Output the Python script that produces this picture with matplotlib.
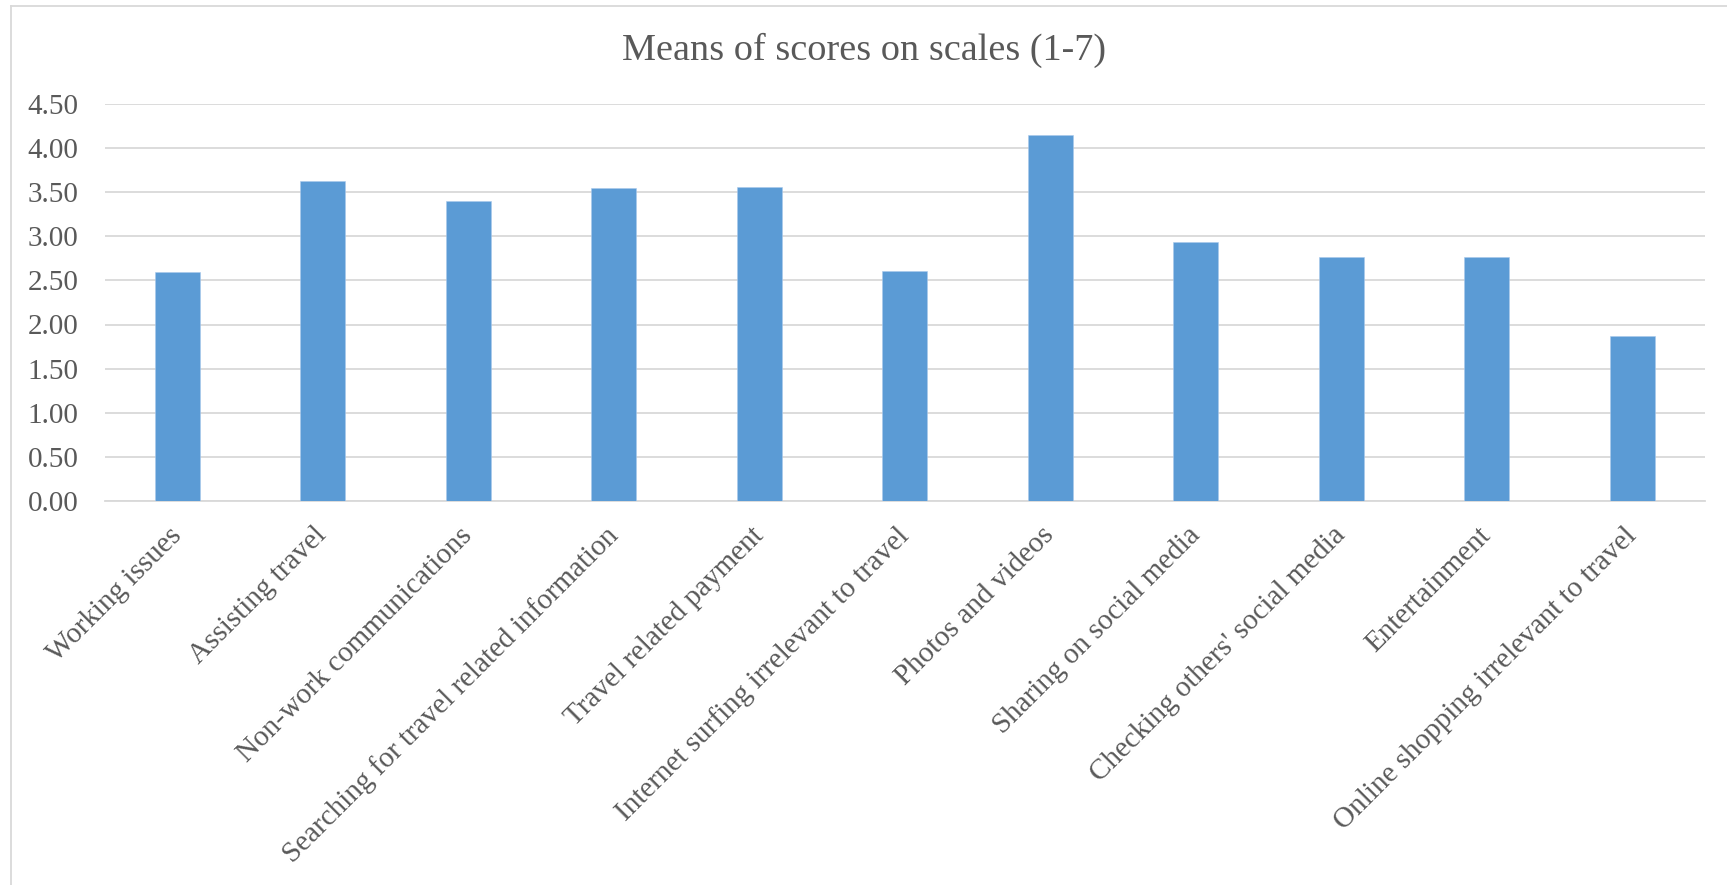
import numpy as np
import matplotlib
matplotlib.use('Agg')
import matplotlib.pyplot as plt
from matplotlib.lines import Line2D

# mean score per activity (scale 1-7)
activities = ['Working issues', 'Assisting travel', 'Non-work communications',
              'Searching for travel related information', 'Travel related payment',
              'Internet surfing irrelevant to travel', 'Photos and videos',
              'Sharing on social media', "Checking others' social media",
              'Entertainment', 'Online shopping irrelevant to travel']
means = [2.60, 3.63, 3.40, 3.55, 3.56, 2.61, 4.15, 2.93, 2.76, 2.77, 1.87]
yticks = [0.0, 0.5, 1.0, 1.5, 2.0, 2.5, 3.0, 3.5, 4.0, 4.5]

text_col = '#595959'
grid_col = '#d9d9d9'
plt.rcParams['font.family'] = ['Liberation Serif', 'DejaVu Serif']

fig = plt.figure(figsize = (17.27, 8.85), dpi = 100)
ax = fig.add_axes([0.0606, 0.434, 0.9267, 0.4485])

x = np.arange(len(activities))
ax.bar(x, means, width = 0.31, color = '#5b9bd5', edgecolor = '#a9c9ec', linewidth = 0.4, zorder = 3)

ax.set_xlim(-0.5, len(activities) - 0.5)
ax.set_ylim(0, 4.5)
ax.set_yticks(yticks)
ax.set_yticklabels([f'{v:.2f}' for v in yticks])
ax.yaxis.grid(True, color = grid_col, linewidth = 1.3, zorder = 0)
ax.set_axisbelow(True)
for s in ['left', 'right', 'top']:
    ax.spines[s].set_visible(False)
ax.spines['bottom'].set_color(grid_col)
ax.spines['bottom'].set_linewidth(1.3)
ax.tick_params(axis = 'both', length = 0, labelsize = 21, colors = text_col)
ax.tick_params(axis = 'y', pad = 19)
ax.tick_params(axis = 'x', pad = 22)

ax.set_xticks(x)
ax.set_xticklabels(activities, rotation = 45, ha = 'right', va = 'center',
                   rotation_mode = 'anchor')

fig.text(0.5, 1 - 50 / 885, 'Means of scores on scales (1-7)', ha = 'center', va = 'center',
         fontsize = 27.5, color = text_col)

# chart area border (left and top edges)
fig.add_artist(Line2D([11 / 1727, 11 / 1727], [0, 1 - 6 / 885], transform = fig.transFigure,
                      color = grid_col, linewidth = 1.3))
fig.add_artist(Line2D([11 / 1727, 1], [1 - 6 / 885, 1 - 6 / 885], transform = fig.transFigure,
                      color = grid_col, linewidth = 1.3))

fig.savefig('out.png', dpi = 100)
